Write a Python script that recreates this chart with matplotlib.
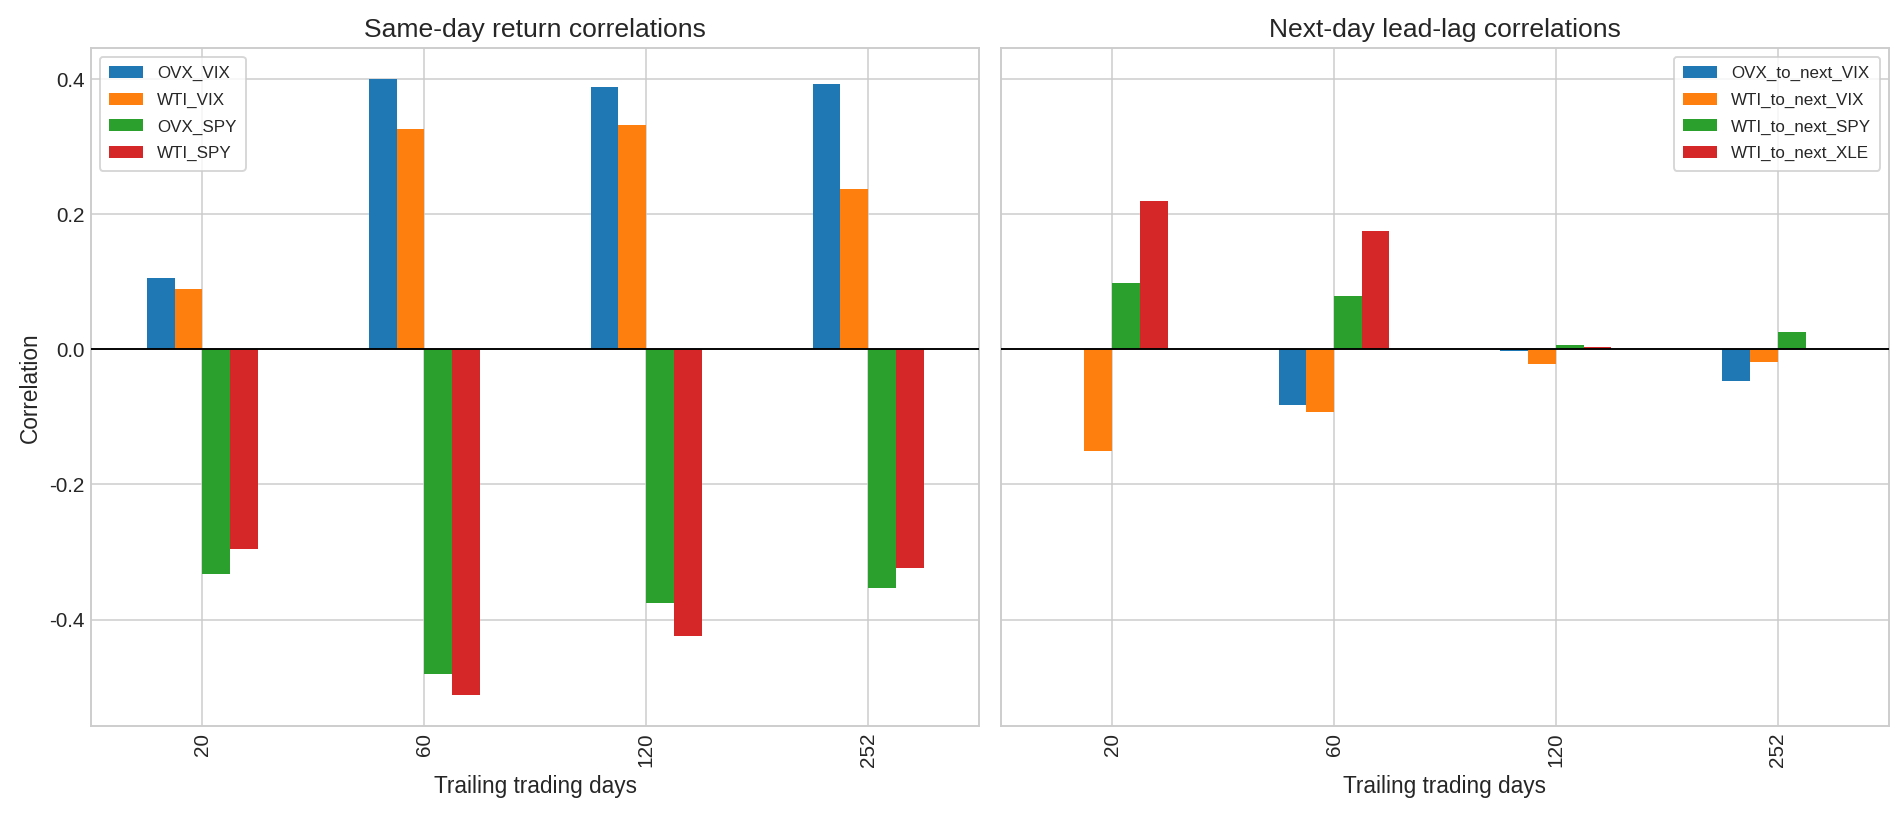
import numpy as np
import matplotlib
matplotlib.use("Agg")
import matplotlib.pyplot as plt

windows = ["20", "60", "120", "252"]

same_names = ["OVX_VIX", "WTI_VIX", "OVX_SPY", "WTI_SPY"]
ovx_vix = [0.105, 0.400, 0.388, 0.393]
wti_vix = [0.090, 0.326, 0.332, 0.237]
ovx_spy = [-0.333, -0.481, -0.375, -0.353]
wti_spy = [-0.296, -0.512, -0.425, -0.324]

lead_names = ["OVX_to_next_VIX", "WTI_to_next_VIX", "WTI_to_next_SPY", "WTI_to_next_XLE"]
ovx_to_next_vix = [np.nan, -0.083, -0.003, -0.047]
wti_to_next_vix = [-0.150, -0.093, -0.021, -0.019]
wti_to_next_spy = [0.099, 0.0785, 0.007, 0.025]
wti_to_next_xle = [0.219, 0.175, 0.004, np.nan]

colors = ["#1f77b4", "#ff7f0e", "#2ca02c", "#d62728"]

plt.style.use("seaborn-v0_8-whitegrid")
plt.rcParams["font.family"] = ["Liberation Sans", "DejaVu Sans"]
plt.rcParams["axes.unicode_minus"] = False
plt.rcParams["xtick.labelsize"] = 11
plt.rcParams["ytick.labelsize"] = 11

fig, axes = plt.subplots(1, 2, figsize=(14, 6), dpi=136, sharey=True)
fig.subplots_adjust(left=0.048, right=0.992, top=0.941, bottom=0.110, wspace=0.025)

def grouped(ax, series, names, title, loc):
    n = len(series)
    width = 0.5 / n
    x = np.arange(len(windows))
    for i, (vals, name) in enumerate(zip(series, names)):
        offs = (i - (n - 1) / 2) * width
        ax.bar(x + offs, vals, width, color=colors[i], label=name, zorder=2)
    ax.set_xticks(x)
    ax.set_xticklabels(windows, rotation=90)
    ax.set_xlim(-0.5, len(windows) - 0.5)
    ax.axhline(0, color="black", linewidth=1, zorder=3)
    ax.set_title(title, fontsize=14)
    ax.set_xlabel("Trailing trading days", fontsize=12)
    ax.legend(loc=loc, frameon=True, fontsize=9, labelspacing=0.68,
              borderpad=0.55)
    ax.set_axisbelow(True)

grouped(axes[0], [ovx_vix, wti_vix, ovx_spy, wti_spy], same_names,
        "Same-day return correlations", "upper left")
grouped(axes[1], [ovx_to_next_vix, wti_to_next_vix, wti_to_next_spy, wti_to_next_xle],
        lead_names, "Next-day lead-lag correlations", "upper right")
axes[0].set_ylabel("Correlation", fontsize=12)
axes[0].set_ylim(-0.558, 0.446)
axes[0].set_yticks([-0.4, -0.2, 0.0, 0.2, 0.4])
axes[1].tick_params(axis="y", left=False, labelleft=False)

fig.savefig("out.png", dpi=136)
